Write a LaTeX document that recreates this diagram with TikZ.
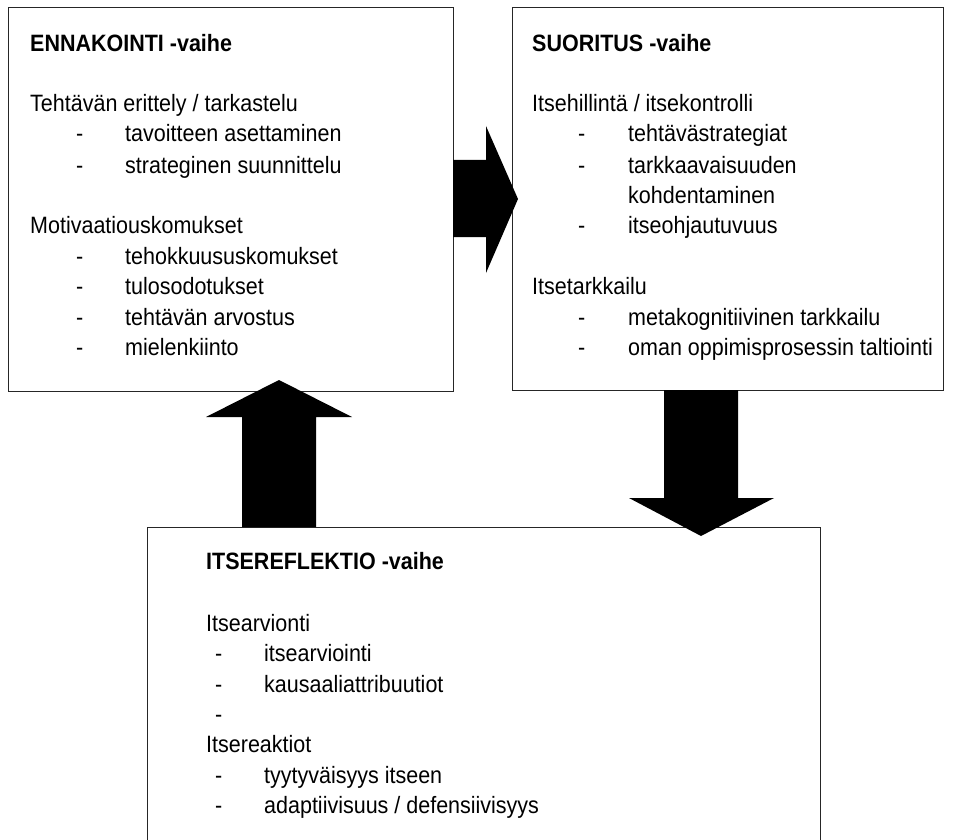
\documentclass[tikz,border=0pt]{standalone}
\usepackage{fontspec}
\setmainfont{Liberation Sans}
\begin{document}
\begin{tikzpicture}[x=1pt,y=-1pt,
  box/.style={draw=black!85, line width=1pt, inner sep=0pt, anchor=north west},
  txt/.style={anchor=base west, inner sep=0pt, text=black, transform shape, yscale=1.1, font=\fontsize{21.5}{25}\selectfont},
  ttl/.style={txt, font=\fontsize{21.5}{25}\selectfont\bfseries},
  blk/.style={fill=black}]
\clip (0,0) rectangle (953,840);
\fill[white] (0,0) rectangle (953,840);
% boxes
\node[box, minimum width=445pt, minimum height=384pt] (b1) at (8,7) {};
\node[box, minimum width=431pt, minimum height=383pt] (b2) at (512,7) {};
\node[box, minimum width=673pt, minimum height=340pt] (b3) at (147,527) {};
% block arrows
\fill[blk] (453,160) -- (486,160) -- (486,126) -- (518,199) -- (486,273) -- (486,237) -- (453,237) -- cycle;
\fill[blk] (242,527) -- (242,417) -- (206,417) -- (279,380) -- (352,417) -- (316,417) -- (316,527) -- cycle;
\fill[blk] (664,390) -- (738,390) -- (738,498) -- (774,498) -- (701,536) -- (629,498) -- (664,498) -- cycle;
% box 1 text
\node[ttl] (a0) at (30,52) {ENNAKOINTI -vaihe};
\node[txt] (a1) at (30,112) {Tehtävän erittely / tarkastelu};
\node[txt] (a2d) at (76,142) {-};
\node[txt] (a2) at (125,142) {tavoitteen asettaminen};
\node[txt] (a3d) at (76,173) {-};
\node[txt] (a3) at (125,173) {strateginen suunnittelu};
\node[txt] (a4) at (30,233) {Motivaatiouskomukset};
\node[txt] (a5d) at (76,264) {-};
\node[txt] (a5) at (125,264) {tehokkuususkomukset};
\node[txt] (a6d) at (76,294) {-};
\node[txt] (a6) at (125,294) {tulosodotukset};
\node[txt] (a7d) at (76,325) {-};
\node[txt] (a7) at (125,325) {tehtävän arvostus};
\node[txt] (a8d) at (76,355) {-};
\node[txt] (a8) at (125,355) {mielenkiinto};
% box 2 text
\node[ttl] (s0) at (532,52) {SUORITUS -vaihe};
\node[txt] (s1) at (532,112) {Itsehillintä / itsekontrolli};
\node[txt] (s2d) at (578,142) {-};
\node[txt] (s2) at (628,142) {tehtävästrategiat};
\node[txt] (s3d) at (578,173) {-};
\node[txt] (s3) at (628,173) {tarkkaavaisuuden};
\node[txt] (s4) at (628,203) {kohdentaminen};
\node[txt] (s5d) at (578,233) {-};
\node[txt] (s5) at (628,233) {itseohjautuvuus};
\node[txt] (s6) at (532,294) {Itsetarkkailu};
\node[txt] (s7d) at (578,325) {-};
\node[txt] (s7) at (628,325) {metakognitiivinen tarkkailu};
\node[txt] (s8d) at (578,355) {-};
\node[txt] (s8) at (628,355) {oman oppimisprosessin taltiointi};
% box 3 text
\node[ttl] (r0) at (206,569) {ITSEREFLEKTIO -vaihe};
\node[txt] (r1) at (206,631) {Itsearvionti};
\node[txt] (r2d) at (215,661) {-};
\node[txt] (r2) at (264,661) {itsearviointi};
\node[txt] (r3d) at (215,692) {-};
\node[txt] (r3) at (264,692) {kausaaliattribuutiot};
\node[txt] (r4d) at (215,722) {-};
\node[txt] (r5) at (206,752) {Itsereaktiot};
\node[txt] (r6d) at (215,783) {-};
\node[txt] (r6) at (264,783) {tyytyväisyys itseen};
\node[txt] (r7d) at (215,813) {-};
\node[txt] (r7) at (264,813) {adaptiivisuus / defensiivisyys};
\end{tikzpicture}
\end{document}
